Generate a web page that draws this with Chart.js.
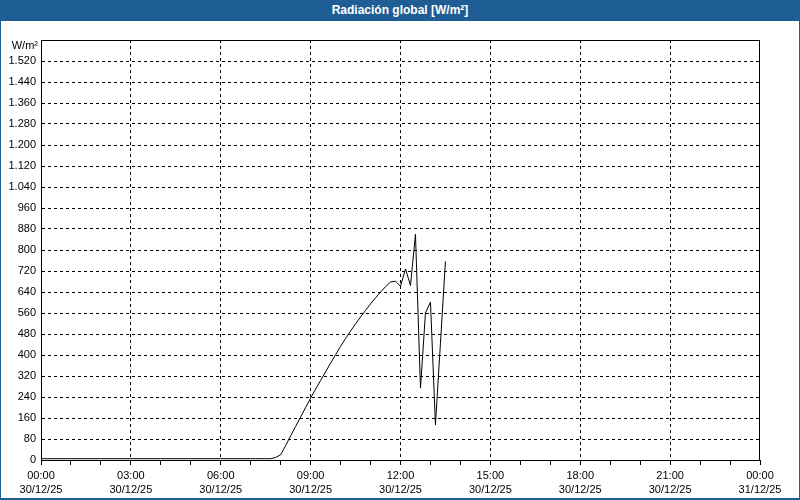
<!DOCTYPE html>
<html>
<head>
<meta charset="utf-8">
<title>Radiación global</title>
<script src="https://cdn.jsdelivr.net/npm/chart.js@4"></script>
<style>
    body { margin: 0; background: #ffffff; }
    #frame {
        position: relative;
        width: 800px;
        height: 500px;
        overflow: hidden;
        background: #ffffff;
    }
    #chart { position: absolute; left: 0; top: 0; }
    #titleBar {
        position: absolute; left: 0; top: 0; width: 800px; height: 21px;
        background: #1f5e94;
        color: #ffffff;
        font: bold 12px "Liberation Sans", Arial, sans-serif;
        text-align: center;
        line-height: 21px;
    }
    .edge { position: absolute; background: #1f5e94; }
</style>
</head>
<body>
<div id="frame">
    <canvas id="chart" width="800" height="500"></canvas>
    <div id="titleBar">Radiación global [W/m²]</div>
    <div class="edge" style="left:0;top:0;width:1px;height:500px"></div>
    <div class="edge" style="right:0;top:0;width:1px;height:500px"></div>
    <div class="edge" style="left:0;bottom:0;width:800px;height:2px"></div>
</div>
<script>
// Radiation readings, 30/12/25 (flat night part read hourly, then every 10 min)
const times = [
    '00:00', '01:00', '02:00', '03:00', '04:00', '05:00', '06:00', '07:00',
    '07:10', '07:20', '07:30', '07:40', '07:50',
    '08:00', '08:10', '08:20', '08:30', '08:40', '08:50',
    '09:00', '09:10', '09:20', '09:30', '09:40', '09:50',
    '10:00', '10:10', '10:20', '10:30', '10:40', '10:50',
    '11:00', '11:10', '11:20', '11:30', '11:40', '11:50',
    '12:00', '12:10', '12:20', '12:30', '12:40', '12:50',
    '13:00', '13:10', '13:20', '13:30'
];
const radiation = [
    5, 5, 5, 5, 5, 5, 5, 5,
    5, 5, 5, 5, 10,
    20, 55, 92, 128, 164, 200,
    236, 270, 303, 336, 369, 401,
    433, 463, 491, 519, 545, 570,
    595, 618, 640, 660, 678, 681,
    662, 728, 665, 860, 274, 560,
    602, 134, 445, 757
];
const hourLabels = ['00:00', '03:00', '06:00', '09:00', '12:00', '15:00', '18:00', '21:00', '00:00'];
const dateLabels = ['30/12/25', '30/12/25', '30/12/25', '30/12/25', '30/12/25', '30/12/25', '30/12/25', '30/12/25', '31/12/25'];
const yMax = 1600;
const yStep = 80;
const yUnit = 'W/m²';

const FONT = '"Liberation Sans", Arial, sans-serif';

function toHours(t) {
    const [h, m] = t.split(':').map(Number);
    return h + m / 60;
}

function formatThousands(v) {
    return v >= 1000 ? Math.floor(v / 1000) + '.' + String(v % 1000).padStart(3, '0') : String(v);
}

// solid frame round the plot area, plus the unit label above the y ticks
const plotFrame = {
    id: 'plotFrame',
    afterDraw(chart) {
        const { ctx, chartArea: a } = chart;
        ctx.save();
        ctx.strokeStyle = '#000000';
        ctx.lineWidth = 1;
        ctx.strokeRect(Math.round(a.left) + 0.5, Math.round(a.top) + 0.5,
            Math.round(a.right - a.left) - 1, Math.round(a.bottom - a.top));
        ctx.fillStyle = '#000000';
        ctx.font = '11px ' + FONT;
        ctx.textAlign = 'right';
        ctx.textBaseline = 'middle';
        ctx.fillText(yUnit, a.left - 3, a.top + 6);
        ctx.restore();
    }
};

const points = times.map((t, i) => ({ x: toHours(t), y: radiation[i] }));

new Chart(document.getElementById('chart'), {
    type: 'line',
    data: {
        datasets: [{
            data: points,
            borderColor: '#000000',
            borderWidth: 1,
            pointRadius: 0,
            tension: 0,
            fill: false
        }]
    },
    options: {
        responsive: false,
        animation: false,
        events: [],
        layout: { padding: { top: 40, right: 40, left: 0, bottom: 0 } },
        plugins: {
            legend: { display: false },
            tooltip: { enabled: false }
        },
        scales: {
            x: {
                type: 'linear',
                min: 0,
                max: 24,
                afterFit: s => { s.height = 40; },
                ticks: {
                    stepSize: 1,
                    autoSkip: false,
                    maxRotation: 0,
                    padding: 3,
                    color: '#000000',
                    font: { family: FONT, size: 11, lineHeight: 1.36 },
                    callback: v => v % 3 === 0 ? [hourLabels[v / 3], dateLabels[v / 3]] : ''
                },
                grid: {
                    color: c => (c.tick && c.tick.value % 3 === 0 && c.tick.value > 0 && c.tick.value < 24) ? '#000000' : 'rgba(0,0,0,0)',
                    tickColor: '#000000',
                    tickLength: 5,
                    lineWidth: 1
                },
                border: { display: true, color: '#000000', width: 1, dash: [3, 3] }
            },
            y: {
                min: 0,
                max: yMax,
                afterFit: s => { s.width = 41; },
                ticks: {
                    stepSize: yStep,
                    autoSkip: false,
                    padding: 5,
                    color: '#000000',
                    font: { family: FONT, size: 11 },
                    callback: v => v === yMax ? '' : formatThousands(v)
                },
                grid: {
                    color: c => (c.tick && c.tick.value > 0 && c.tick.value < yMax) ? '#000000' : 'rgba(0,0,0,0)',
                    drawTicks: false,
                    lineWidth: 1
                },
                border: { display: true, color: '#000000', width: 1, dash: [3, 3] }
            }
        }
    },
    plugins: [plotFrame]
});
</script>
</body>
</html>
